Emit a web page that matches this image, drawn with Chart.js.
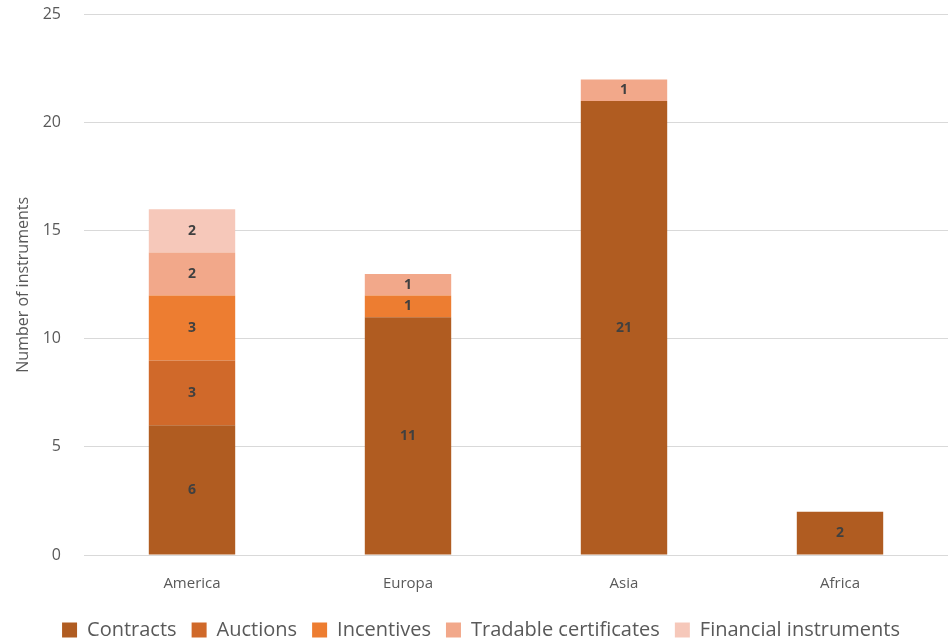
<!DOCTYPE html>
<html>
<head>
<meta charset="utf-8">
<script src="https://cdn.jsdelivr.net/npm/chart.js@4"></script>
<style>
  html, body { margin: 0; padding: 0; background: #fff; }
  #wrap { width: 948px; height: 641px; overflow: hidden; }
  #chart { display: block; margin-top: -18px; }
</style>
</head>
<body>
<div id="wrap"><canvas id="chart" width="948" height="668"></canvas></div>
<script>
// Instruments per region, stacked by type
const regions = ['America', 'Europa', 'Asia', 'Africa'];
const contracts = [6, 11, 21, 2];
const auctions = [3, 0, 0, 0];
const incentives = [3, 1, 0, 0];
const tradable = [2, 1, 1, 0];
const financial = [2, 0, 0, 0];
const yTicks = [0, 5, 10, 15, 20, 25];

const FONT = 'Open Sans';
const GREY = '#595959';

// Simple plugin to write the value in the middle of each segment
const segmentLabels = {
    id: 'segmentLabels',
    afterDatasetsDraw(chart) {
        const ctx = chart.ctx;
        ctx.save();
        ctx.font = 'bold 14px ' + FONT;
        ctx.fillStyle = '#404040';
        ctx.textAlign = 'center';
        ctx.textBaseline = 'middle';
        chart.data.datasets.forEach((ds, i) => {
            const meta = chart.getDatasetMeta(i);
            meta.data.forEach((bar, j) => {
                const v = ds.data[j];
                if (!v) return;
                const mid = (bar.y + bar.base) / 2;
                ctx.fillText(String(v), bar.x, mid);
            });
        });
        ctx.restore();
    }
};

function series(label, data, color) {
    return {
        label: label,
        data: data,
        backgroundColor: color,
        borderWidth: 0,
        barPercentage: 0.4,
        categoryPercentage: 1.0
    };
}

new Chart(document.getElementById('chart'), {
    type: 'bar',
    data: {
        labels: regions,
        datasets: [
            series('Contracts', contracts, '#B05C21'),
            series('Auctions', auctions, '#D0692A'),
            series('Incentives', incentives, '#ED7D31'),
            series('Tradable certificates', tradable, '#F2A88A'),
            series('Financial instruments', financial, '#F6C8BA')
        ]
    },
    options: {
        responsive: false,
        animation: false,
        layout: { padding: { left: 14, right: 0, top: 0, bottom: 0 } },
        plugins: {
            legend: {
                position: 'bottom',
                labels: {
                    font: { family: FONT, size: 20 },
                    color: GREY,
                    boxWidth: 15,
                    boxHeight: 15,
                    padding: 15
                }
            },
            tooltip: { enabled: false }
        },
        scales: {
            x: {
                stacked: true,
                grid: { display: false },
                border: { display: false },
                ticks: { font: { family: FONT, size: 15 }, color: GREY, padding: 12 }
            },
            y: {
                stacked: true,
                min: 0,
                max: 25,
                afterBuildTicks: axis => { axis.ticks = yTicks.map(v => ({ value: v })); },
                afterFit: axis => { axis.width = 70; },
                grid: { color: '#d9d9d9', drawTicks: false },
                border: { display: false },
                ticks: { font: { family: FONT, size: 16 }, color: GREY, padding: 23 },
                title: {
                    display: true,
                    text: 'Number of instruments',
                    font: { family: FONT, size: 16 },
                    color: GREY,
                    padding: 0
                }
            }
        }
    },
    plugins: [segmentLabels]
});
</script>
</body>
</html>
